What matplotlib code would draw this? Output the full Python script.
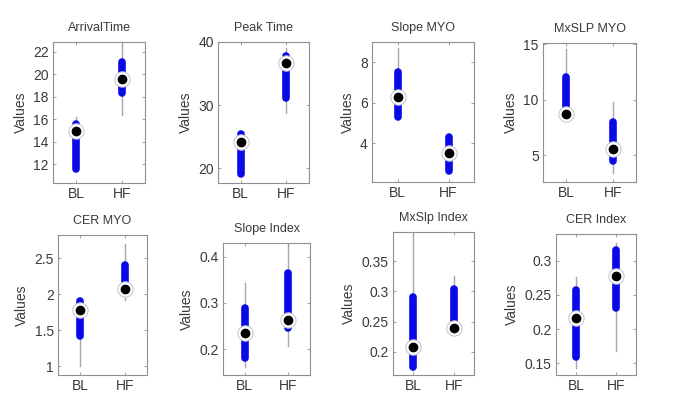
import matplotlib
matplotlib.use('Agg')
import matplotlib.pyplot as plt

plt.rcParams['font.family'] = ['Liberation Sans', 'DejaVu Sans']

# summary stats (lo whisker, q1, median, q3, hi whisker)
titles = ['ArrivalTime', 'Peak Time', 'Slope MYO', 'MxSLP MYO',
          'CER MYO', 'Slope Index', 'MxSlp Index', 'CER Index']
groups = ['BL', 'HF']

bl_lo  = [11.5, 19.0, 5.2, 8.7, 1.00, 0.162, 0.170, 0.143]
bl_q1  = [11.6, 19.2, 5.3, 8.8, 1.42, 0.180, 0.175, 0.160]
bl_med = [15.0, 24.2, 6.3, 8.75, 1.78, 0.236, 0.208, 0.216]
bl_q3  = [15.6, 25.5, 7.5, 12.0, 1.90, 0.289, 0.291, 0.257]
bl_hi  = [16.2, 25.8, 8.7, 14.6, 1.92, 0.343, 0.395, 0.276]

hf_lo  = [16.4, 28.8, 2.6, 3.4, 1.92, 0.206, 0.240, 0.168]
hf_q1  = [18.3, 31.2, 2.65, 4.5, 2.04, 0.246, 0.243, 0.231]
hf_med = [19.6, 36.6, 3.55, 5.6, 2.07, 0.264, 0.240, 0.277]
hf_q3  = [21.1, 37.8, 4.3, 8.0, 2.40, 0.365, 0.304, 0.316]
hf_hi  = [22.7, 39.1, 4.35, 9.8, 2.70, 0.435, 0.326, 0.326]

yticks = [[12, 14, 16, 18, 20, 22], [20, 30, 40], [4, 6, 8], [5, 10, 15],
          [1, 1.5, 2, 2.5], [0.2, 0.3, 0.4], [0.2, 0.25, 0.3, 0.35],
          [0.15, 0.2, 0.25, 0.3]]
ylims = [(10.35, 22.85), (17.7, 40.0), (2.1, 9.0), (2.6, 15.1),
         (0.88, 2.82), (0.144, 0.43), (0.161, 0.399), (0.133, 0.339)]

# axes boxes in pixels (left, right, top, bottom) of a 685x405 image
W, H = 685, 405
boxes = [(53, 145, 42, 183), (218, 309, 42, 183), (372, 474, 42, 182), (543, 636, 43, 182),
         (58, 147, 235, 375), (223, 310, 243, 375), (393, 474, 232, 375), (556, 636, 234, 375)]

txt = '#3a3a3a'
fig = plt.figure(figsize=(W / 100, H / 100), dpi=100)

for i, t in enumerate(titles):
    l, r, tp, b = boxes[i]
    ax = fig.add_axes([l / W, 1 - b / H, (r - l) / W, (b - tp) / H])
    lo = [bl_lo[i], hf_lo[i]]
    q1 = [bl_q1[i], hf_q1[i]]
    med = [bl_med[i], hf_med[i]]
    q3 = [bl_q3[i], hf_q3[i]]
    hi = [bl_hi[i], hf_hi[i]]
    for k in range(2):
        x = k + 1
        ax.plot([x, x], [lo[k], hi[k]], color='#a6a6b8', lw=1.0, zorder=1)
        ax.plot([x, x], [q1[k], q3[k]], color='#0a0ae6', lw=5.5,
                solid_capstyle='round', zorder=2)
        ax.plot(x, med[k], 'o', ms=11, mfc='white', mec='#c8c8d8', mew=0.8, zorder=3)
        ax.plot(x, med[k], 'o', ms=6, mfc='black', mec='black', zorder=4)
    ax.set_xlim(0.5, 2.5)
    ax.set_ylim(*ylims[i])
    ax.set_xticks([1, 2])
    ax.set_xticklabels(groups)
    ax.set_yticks(yticks[i])
    ax.set_yticklabels([('%g' % v) for v in yticks[i]])
    ax.tick_params(direction='in', length=2.5, width=0.6, color='#909090',
                   labelsize=10, labelcolor=txt, top=True, right=True, pad=3)
    for s in ax.spines.values():
        s.set_color('#909090')
        s.set_linewidth(0.8)
    ax.set_title(t, fontsize=9, color=txt, pad=8)
    ax.set_ylabel('Values', fontsize=10, color=txt, labelpad=4)

fig.savefig('out.png', dpi=100)
